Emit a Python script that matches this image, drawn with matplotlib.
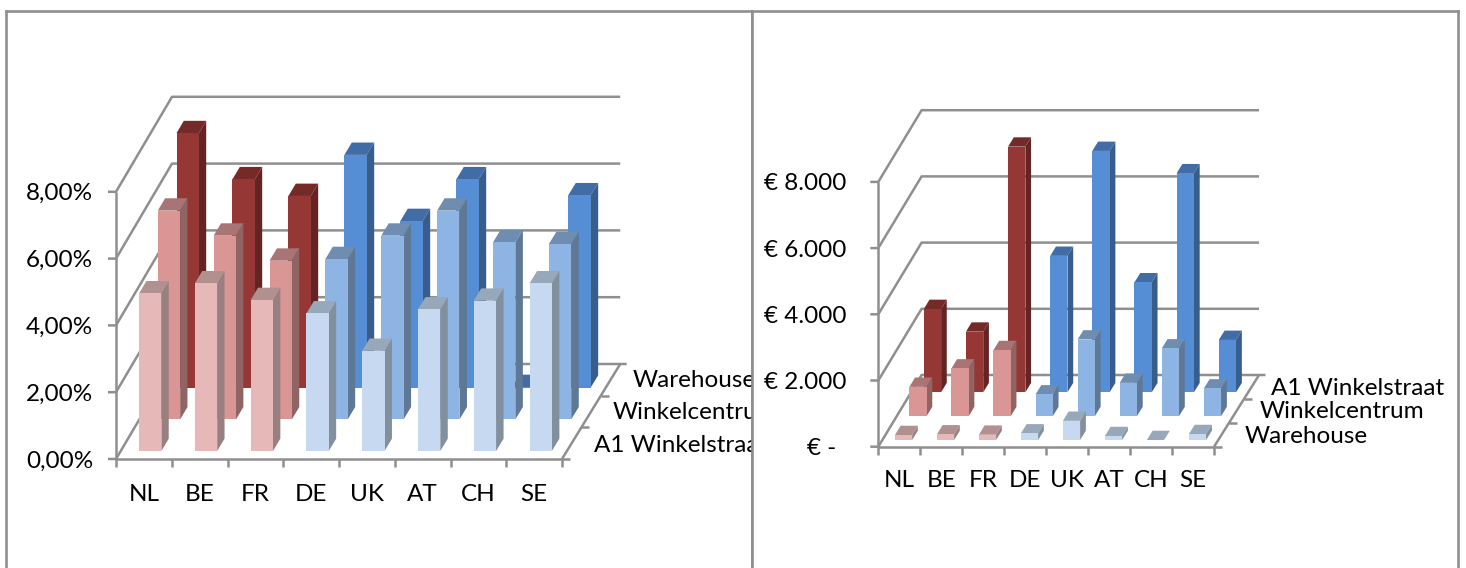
import matplotlib
matplotlib.use("Agg")
import matplotlib.pyplot as plt
from matplotlib.patches import Polygon

plt.rcParams['font.family'] = ['Lato', 'DejaVu Sans']

FIG_W, FIG_H = 1466, 568

countries = ["NL", "BE", "FR", "DE", "UK", "AT", "CH", "SE"]
red_countries = 3  # the first three countries are shaded red, the others blue

# percentage chart, front row to back row
pct_rows = ["A1 Winkelstraat", "Winkelcentrum", "Warehouse"]
pct_a1 = [4.72, 5.02, 4.52, 4.12, 3.00, 4.24, 4.50, 5.02]
pct_centrum = [6.25, 5.50, 4.75, 4.80, 5.50, 6.25, 5.30, 5.25]
pct_warehouse = [7.62, 6.24, 5.74, 6.97, 4.99, 6.24, 0.02, 5.76]
pct_ticks = [0, 2, 4, 6, 8]
pct_ticklabels = ["0,00%", "2,00%", "4,00%", "6,00%", "8,00%"]

# euro chart, front row to back row
eur_rows = ["Warehouse", "Winkelcentrum", "A1 Winkelstraat"]
eur_warehouse = [150, 170, 160, 200, 580, 120, 0, 180]
eur_centrum = [885, 1440, 1995, 655, 2315, 1005, 2045, 835]
eur_a1 = [2515, 1830, 7420, 4120, 7290, 3320, 6615, 1580]
eur_ticks = [0, 2000, 4000, 6000, 8000]
eur_ticklabels = ["€ -", "€ 2.000", "€ 4.000", "€ 6.000", "€ 8.000"]

# (front, side, top) face colours per row, front row first
REDS = [("#e6b9b8", "#988080", "#b19090"),
        ("#d99694", "#8f6463", "#a87574"),
        ("#953735", "#632523", "#732a28")]
BLUES = [("#c6d9f1", "#82909e", "#98a8bb"),
         ("#8eb4e3", "#5e7896", "#6f8cb1"),
         ("#558ed5", "#385d8a", "#426ca6")]
GRID = "#8f8f8f"
FAN = 0.005  # slight widening of the categories towards the back wall


def draw_chart(frame, origin, cat_w, unit, depth_px, bar_start, bar_w, base_d,
               rows, row_labels, ticks, ticklabels, cat_label_y, ytick_x, row_label_pos):
    """Oblique 3-D column chart; data x is the category index, data y the value."""
    fx0, fx1, fy0, fy1 = frame
    ox, oy = origin
    ax = plt.gcf().add_axes([fx0 / FIG_W, 1 - fy1 / FIG_H,
                             (fx1 - fx0) / FIG_W, (fy1 - fy0) / FIG_H])
    ax.set_xlim((fx0 - ox) / cat_w, (fx1 - ox) / cat_w)
    ax.set_ylim((oy - fy1) / unit, (oy - fy0) / unit)
    ax.set_xticks([])
    ax.set_yticks([])
    for s in ax.spines.values():
        s.set_color(GRID)
        s.set_linewidth(1.9)

    dx = depth_px[0] / cat_w
    dy = depth_px[1] / unit
    n = len(countries)
    top = ticks[-1]
    stub_x = 8 / cat_w
    stub_y = 8 / unit

    def proj(c, d, v):
        return c * (1 + FAN * d) + d * dx, v + d * dy

    def line(pts, lw=1.8):
        xs, ys = zip(*pts)
        ax.plot(xs, ys, color=GRID, lw=lw, solid_capstyle="butt", zorder=1)

    # walls, floor and ticks
    for t in ticks:
        line([proj(-stub_x, 0, t), proj(0, 0, t), proj(0, 1, t), proj(n, 1, t)])
    line([proj(0, 0, 0), proj(0, 0, top)])
    line([proj(0, 0, 0), proj(n + stub_x, 0, 0)])
    line([proj(n, 0, 0), proj(n, 1, 0), proj(n + stub_x * 0.8, 1, 0)])
    for i in range(n + 1):
        line([proj(i, 0, 0), proj(i, 0, -stub_y)])
    for d in (1 / 3, 2 / 3):
        line([proj(n, d, 0), proj(n + stub_x, d, 0)])

    # columns, back row first
    bar_d = 0.13
    for r in range(len(rows) - 1, -1, -1):
        for i, v in enumerate(rows[r]):
            front, side, cap = (REDS if i < red_countries else BLUES)[r]
            c0, c1 = i + bar_start, i + bar_start + bar_w
            d0, d1 = base_d + r / 3, base_d + r / 3 + bar_d
            faces = [
                ([proj(c0, d0, v), proj(c1, d0, v), proj(c1, d1, v), proj(c0, d1, v)], cap),
                ([proj(c1, d0, 0), proj(c1, d1, 0), proj(c1, d1, v), proj(c1, d0, v)], side),
                ([proj(c0, d0, 0), proj(c1, d0, 0), proj(c1, d0, v), proj(c0, d0, v)], front),
            ]
            for pts, col in faces:
                ax.add_patch(Polygon(pts, closed=True, facecolor=col, edgecolor="none", zorder=2))

    # labels
    fs = 17.5
    for i, name in enumerate(countries):
        ax.text(i + 0.5, (oy - cat_label_y) / unit, name, ha="center", va="center", fontsize=fs)
    for t, lab in zip(ticks, ticklabels):
        x = (ytick_x[1] if t == 0 else ytick_x[0])
        ax.text((x - ox) / cat_w, t - 2 / unit, lab, ha="right", va="center", fontsize=fs)
    for lab, (px, py) in zip(row_labels, row_label_pos):
        ax.text((px - ox) / cat_w, (oy - py) / unit, lab, ha="left", va="center",
                fontsize=fs, clip_on=True)


fig = plt.figure(figsize=(FIG_W / 100, FIG_H / 100), dpi=100, facecolor="white")

draw_chart(frame=(6, 752, 11.5, 600), origin=(116, 459), cat_w=55.75, unit=33.4,
           depth_px=(56, 95), bar_start=0.33, bar_w=0.40, base_d=0.084,
           rows=[pct_a1, pct_centrum, pct_warehouse], row_labels=pct_rows,
           ticks=pct_ticks, ticklabels=pct_ticklabels, cat_label_y=495,
           ytick_x=(93, 93), row_label_pos=[(594, 446), (613, 413), (633, 381)])

draw_chart(frame=(752, 1458, 11.5, 600), origin=(878.3, 446.7), cat_w=41.97, unit=33.1 / 1000,
           depth_px=(43.3, 71.7), bar_start=0.30, bar_w=0.41, base_d=0.093,
           rows=[eur_warehouse, eur_centrum, eur_a1], row_labels=eur_rows,
           ticks=eur_ticks, ticklabels=eur_ticklabels, cat_label_y=481,
           ytick_x=(846, 836), row_label_pos=[(1245, 437), (1260, 412), (1271, 389)])

fig.savefig("out.png", dpi=100, facecolor="white")
